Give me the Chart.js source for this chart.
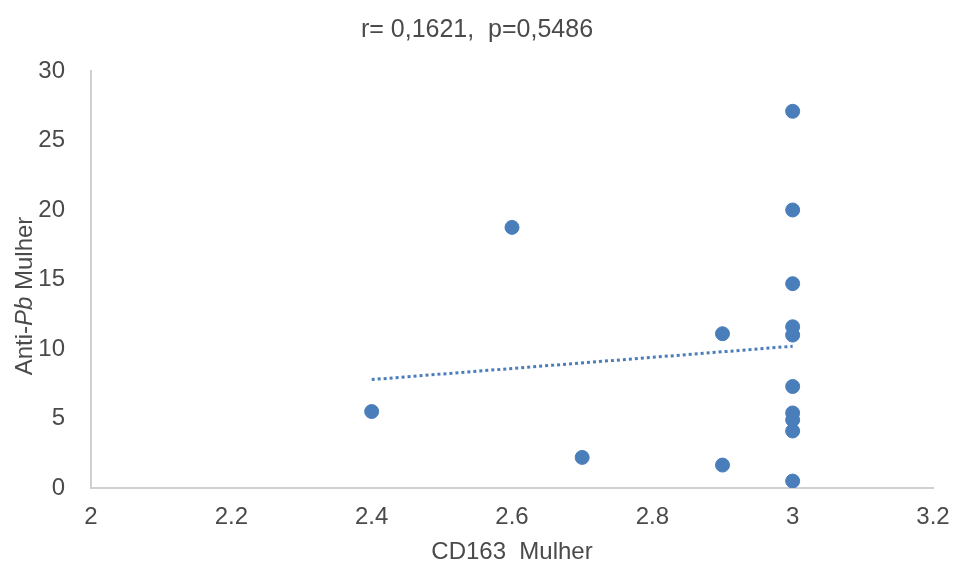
<!DOCTYPE html>
<html>
<head>
<meta charset="utf-8">
<script src="https://cdn.jsdelivr.net/npm/chart.js@4"></script>
<style>
  html, body { margin: 0; padding: 0; background: #fff; }
  #wrap { width: 954px; height: 568px; }
</style>
</head>
<body>
<div id="wrap"><canvas id="scatterChart" width="954" height="568"></canvas></div>
<script>
const cd163 = [3, 3, 3, 3, 3, 3, 3, 3, 3, 3, 2.9, 2.9, 2.7, 2.6, 2.4];
const antiPb = [27.1, 20, 14.7, 11.6, 11.0, 7.3, 5.4, 4.9, 4.1, 0.5, 11.1, 1.65, 2.2, 18.75, 5.5];
const trendX = [2.4, 3];
const trendY = [7.8, 10.2];
const xTicks = [2, 2.2, 2.4, 2.6, 2.8, 3, 3.2];
const yTicks = [0, 5, 10, 15, 20, 25, 30];

const blue = '#4a7ebb';
const textColor = '#4a4a4a';
const fontFamily = '"Liberation Sans", Arial, sans-serif';

// y title with italic "Pb"
const yTitlePlugin = {
    id: 'yTitle',
    afterDraw(chart) {
        const ctx = chart.ctx;
        const parts = [
            { text: 'Anti-', style: '' },
            { text: 'Pb', style: 'italic ' },
            { text: ' Mulher', style: '' }
        ];
        ctx.save();
        let total = 0;
        parts.forEach(p => {
            ctx.font = p.style + '24px ' + fontFamily;
            p.w = ctx.measureText(p.text).width;
            total += p.w;
        });
        ctx.translate(25, 296);
        ctx.rotate(-Math.PI / 2);
        ctx.fillStyle = textColor;
        ctx.textBaseline = 'middle';
        let x = -total / 2;
        parts.forEach(p => {
            ctx.font = p.style + '24px ' + fontFamily;
            ctx.fillText(p.text, x, 0);
            x += p.w;
        });
        ctx.restore();
    }
};

const points = cd163.map((x, i) => ({ x: x, y: antiPb[i] }));
const trend = trendX.map((x, i) => ({ x: x, y: trendY[i] }));

new Chart(document.getElementById('scatterChart'), {
    type: 'scatter',
    data: {
        datasets: [{
            data: points,
            backgroundColor: blue,
            borderColor: blue,
            pointRadius: 7,
            pointHoverRadius: 7,
            order: 1
        }, {
            type: 'line',
            data: trend,
            borderColor: blue,
            borderWidth: 3,
            borderDash: [3, 3],
            pointRadius: 0,
            fill: false,
            order: 2
        }]
    },
    options: {
        responsive: false,
        animation: false,
        layout: { padding: { left: 0, right: 0, top: 0, bottom: 0 } },
        plugins: {
            legend: { display: false },
            tooltip: { enabled: false },
            title: {
                display: true,
                text: 'r= 0,1621,  p=0,5486',
                color: textColor,
                font: { family: fontFamily, size: 25, weight: 'normal' },
                padding: { top: 15, bottom: 26 }
            }
        },
        scales: {
            x: {
                type: 'linear',
                min: 2,
                max: 3.2,
                afterBuildTicks: axis => { axis.ticks = xTicks.map(v => ({ value: v })); },
                afterFit: axis => {
                    axis.height = 80;
                    axis.paddingRight = 21;
                    axis.paddingLeft = 0;
                },
                grid: { display: false, drawTicks: false },
                border: { display: true, color: '#d0d0d0', width: 2 },
                ticks: {
                    color: textColor,
                    padding: 15,
                    maxRotation: 0,
                    font: { family: fontFamily, size: 24 },
                    callback: v => String(Math.round(v * 10) / 10)
                },
                title: {
                    display: true,
                    text: 'CD163  Mulher',
                    color: textColor,
                    font: { family: fontFamily, size: 24 },
                    padding: { top: 0, bottom: 1 }
                }
            },
            y: {
                min: 0,
                max: 30,
                afterBuildTicks: axis => { axis.ticks = yTicks.map(v => ({ value: v })); },
                afterFit: axis => { axis.width = 91; },
                grid: { display: false, drawTicks: false },
                border: { display: true, color: '#d0d0d0', width: 2 },
                ticks: {
                    color: textColor,
                    padding: 26,
                    font: { family: fontFamily, size: 24 }
                }
            }
        }
    },
    plugins: [yTitlePlugin]
});
</script>
</body>
</html>
